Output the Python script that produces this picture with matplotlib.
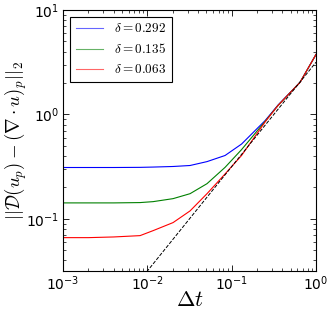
import matplotlib
matplotlib.use("Agg")
import matplotlib.pyplot as plt
import numpy as np

dt = [0.001, 0.002, 0.004, 0.0082, 0.0117, 0.0202, 0.0321, 0.051, 0.0835, 0.131, 0.25, 0.355, 0.647, 1.0]
err_0292 = [0.31, 0.31, 0.31, 0.311, 0.313, 0.317, 0.324, 0.353, 0.404, 0.52, 0.875, 1.23, 2.03, 3.75]
err_0135 = [0.142, 0.142, 0.142, 0.143, 0.146, 0.156, 0.174, 0.217, 0.311, 0.46, 0.86, 1.22, 2.03, 3.75]
err_0063 = [0.066, 0.066, 0.067, 0.069, 0.077, 0.092, 0.119, 0.174, 0.269, 0.404, 0.85, 1.22, 2.03, 3.75]
labels = [r'$\delta = 0.292$', r'$\delta = 0.135$', r'$\delta = 0.063$']
ref_dt = [0.001, 1.0]
ref_coef = 3.16  # first-order reference line

fig = plt.figure(figsize=(3.32, 3.15), dpi=100)
ax = fig.add_axes([63/332, 1 - 271/315, (316-63)/332, (271-10)/315])

for y, c, lab in zip([err_0292, err_0135, err_0063], ['b', 'g', 'r'], labels):
    ax.loglog(dt, y, color=c, lw=0.8, label=lab)
ax.loglog(ref_dt, [ref_coef * d for d in ref_dt], 'k--', lw=0.7)

ax.set_xlim(1e-3, 1e0)
ax.set_ylim(10**-1.5, 10)
ax.tick_params(which='both', direction='in', top=True, right=True, labelsize=10, pad=2.5)
ax.tick_params(which='major', length=4, width=0.6)
ax.tick_params(which='minor', length=2, width=0.5)
for s in ax.spines.values():
    s.set_linewidth(0.8)

ax.set_xlabel(r'$\Delta t$', fontsize=16, math_fontfamily='cm')
ax.xaxis.set_label_coords(0.5, -(290 - 271) / 261)
ax.set_ylabel(r'$||\mathcal{D}(u_p) - (\nabla\cdot u)_p||_2$', fontsize=13.5,
              math_fontfamily='cm')
ax.yaxis.set_label_coords(-(63 - 29) / 253, 0.5)

leg = ax.legend(loc='upper left', fancybox=False, framealpha=1, edgecolor='k',
                handlelength=2.0, borderaxespad=0.5)
for line in leg.get_lines():
    line.set_alpha(0.6)
for t in leg.get_texts():
    t.set_math_fontfamily('cm')
    t.set_fontsize(9.5)
leg.get_frame().set_linewidth(0.8)

fig.savefig('out.png', dpi=100)
